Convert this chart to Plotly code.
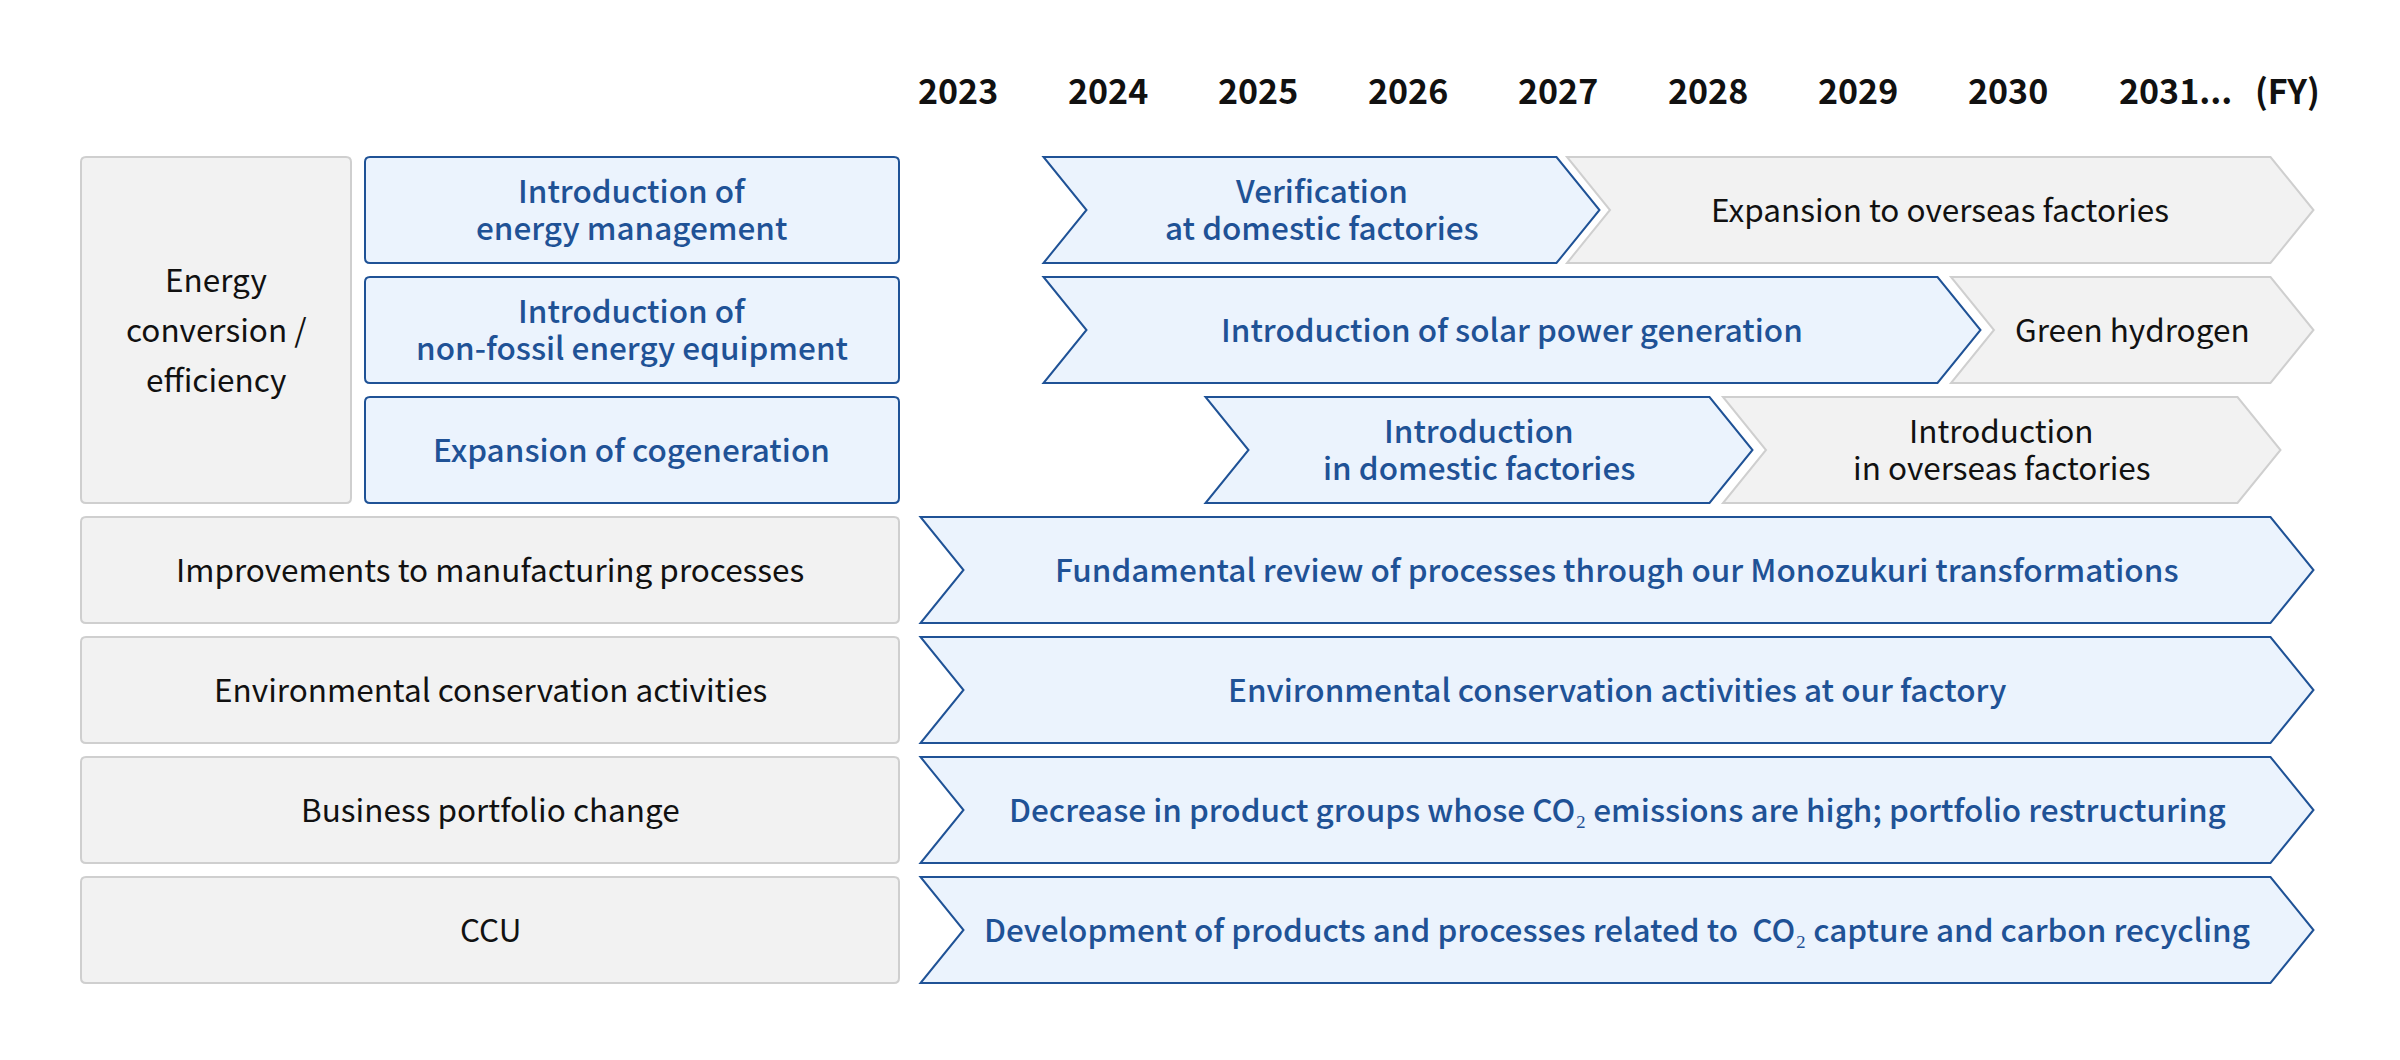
import plotly.graph_objects as go

# ---------------- data ----------------
years = [2023, 2024, 2025, 2026, 2027, 2028, 2029, 2030, 2031]
year_labels = ["2023", "2024", "2025", "2026", "2027", "2028", "2029", "2030", "2031..."]
fy_label = "(FY)"

group_label_lines = ["Energy", "conversion /", "efficiency"]
group_rows = [0, 1, 2]
sub_labels = [
    "Introduction of\nenergy management",
    "Introduction of\nnon-fossil energy equipment",
    "Expansion of cogeneration",
]
single_rows = [3, 4, 5, 6]
single_labels = [
    "Improvements to manufacturing processes",
    "Environmental conservation activities",
    "Business portfolio change",
    "CCU",
]

task_rows = [0, 0, 1, 1, 2, 2, 3, 4, 5, 6]
task_start = [2023.57, 2027.06, 2023.57, 2029.62, 2024.65, 2028.10, 2022.75, 2022.75, 2022.75, 2022.75]
task_end = [2026.99, 2031.75, 2029.53, 2031.75, 2028.01, 2031.53, 2031.75, 2031.75, 2031.75, 2031.75]
task_phase = ["now", "later", "now", "later", "now", "later", "now", "now", "now", "now"]
task_labels = [
    "Verification\nat domestic factories",
    "Expansion to overseas factories",
    "Introduction of solar power generation",
    "Green hydrogen",
    "Introduction\nin domestic factories",
    "Introduction\nin overseas factories",
    "Fundamental review of processes through our Monozukuri transformations",
    "Environmental conservation activities at our factory",
    "Decrease in product groups whose CO\u2082 emissions are high; portfolio restructuring",
    "Development of products and processes related to  CO\u2082 capture and carbon recycling",
]

# ---------------- style / geometry ----------------
W, H = 2400, 1060
PX_PER_YEAR = 150.0
X_ORIGIN_PX = 958.0          # pixel of first year column
ROW_PITCH = 120.0
ROW0_PX = 210.0
HALF = 53.0 / ROW_PITCH
TIP = 43.0 / PX_PER_YEAR

BLUE_LINE = "#1F5296"
BLUE_FILL = "#EBF3FD"
BLUE_TEXT = "#1F5296"
GRAY_LINE = "#CFCFCF"
GRAY_FILL = "#F2F2F2"
DARK = "#111111"
FONT = "Noto Sans CJK JP"
FS = 31.5
BLUE_WT = 500
YEAR_FS = 34
LINE_GAP = 36.5   # px between the two lines of a wrapped label
TEXT_LIFT = 2.5   # px

x_range = [years[0] - X_ORIGIN_PX / PX_PER_YEAR, years[0] + (W - X_ORIGIN_PX) / PX_PER_YEAR]
y_range = [(H - ROW0_PX) / ROW_PITCH, -ROW0_PX / ROW_PITCH]

fig = go.Figure()
shapes = []
annotations = []


def rrect(x0, x1, y0, y1, r_px=5):
    rx = r_px / W
    ry = r_px / ROW_PITCH
    return (f"M {x0+rx},{y0} L {x1-rx},{y0} Q {x1},{y0} {x1},{y0+ry} "
            f"L {x1},{y1-ry} Q {x1},{y1} {x1-rx},{y1} L {x0+rx},{y1} "
            f"Q {x0},{y1} {x0},{y1-ry} L {x0},{y0+ry} Q {x0},{y0} {x0+rx},{y0} Z")


def note(**kw):
    base = dict(showarrow=False, xanchor="center", yanchor="middle")
    base.update(kw)
    annotations.append(base)


def label(x, y, xref, text, font, gap=LINE_GAP):
    lines = text.split("\n")
    n = len(lines)
    for i, ln in enumerate(lines):
        off = ((n - 1) / 2 - i) * gap
        note(x=x, y=y, xref=xref, yref="y", text=ln, yshift=off + TEXT_LIFT, font=font)


# label column (paper x)
LX0, LX1 = 81 / W, 899 / W
GX1 = 351 / W
SX0 = 365 / W

# big group box
shapes.append(dict(type="path", xref="paper", yref="y",
                   path=rrect(LX0, GX1, group_rows[0] - HALF, group_rows[-1] + HALF),
                   fillcolor=GRAY_FILL, line=dict(color=GRAY_LINE, width=2), layer="below"))
label((LX0 + GX1) / 2, group_rows[1], "paper", "\n".join(group_label_lines),
      dict(family=FONT, size=FS, color=DARK), gap=50)

for r, lab in zip(group_rows, sub_labels):
    shapes.append(dict(type="path", xref="paper", yref="y",
                       path=rrect(SX0, LX1, r - HALF, r + HALF),
                       fillcolor=BLUE_FILL, line=dict(color=BLUE_LINE, width=2), layer="below"))
    label((SX0 + LX1) / 2, r, "paper", lab,
          dict(family=FONT, size=FS, color=BLUE_TEXT, weight=BLUE_WT))

for r, lab in zip(single_rows, single_labels):
    shapes.append(dict(type="path", xref="paper", yref="y",
                       path=rrect(LX0, LX1, r - HALF, r + HALF),
                       fillcolor=GRAY_FILL, line=dict(color=GRAY_LINE, width=2), layer="below"))
    label((LX0 + LX1) / 2, r, "paper", lab, dict(family=FONT, size=FS, color=DARK))

# chevrons
for r, x0, x1, ph, lab in zip(task_rows, task_start, task_end, task_phase, task_labels):
    top, bot = r - HALF, r + HALF
    path = (f"M {x0},{top} L {x1},{top} L {x1+TIP},{r} L {x1},{bot} "
            f"L {x0},{bot} L {x0+TIP},{r} Z")
    if ph == "now":
        fill, lc, tc, wt = BLUE_FILL, BLUE_LINE, BLUE_TEXT, BLUE_WT
    else:
        fill, lc, tc, wt = GRAY_FILL, GRAY_LINE, DARK, 400
    shapes.append(dict(type="path", xref="x", yref="y", path=path,
                       fillcolor=fill, line=dict(color=lc, width=2), layer="below"))
    label((x0 + TIP + x1) / 2, r, "x", lab, dict(family=FONT, size=FS, color=tc, weight=wt))

# year header
YEAR_Y = (89 - ROW0_PX) / ROW_PITCH
year_font = dict(family=FONT, size=YEAR_FS, color=DARK, weight=700)
for yr, lab in zip(years, year_labels):
    if lab.endswith("..."):
        note(x=yr, y=YEAR_Y, xref="x", yref="y", text=lab, xanchor="left", xshift=-41,
             font=year_font)
    else:
        note(x=yr, y=YEAR_Y, xref="x", yref="y", text=lab, font=year_font)
note(x=years[-1], y=YEAR_Y, xref="x", yref="y", text=fy_label, xanchor="left", xshift=95,
     font=year_font)

fig.update_layout(
    width=W, height=H, autosize=False,
    margin=dict(l=0, r=0, t=0, b=0, pad=0),
    paper_bgcolor="white", plot_bgcolor="white",
    xaxis=dict(range=x_range, visible=False, fixedrange=True),
    yaxis=dict(range=y_range, visible=False, fixedrange=True),
    shapes=shapes, annotations=annotations, showlegend=False,
)

fig.write_html("out.html", config={"displayModeBar": False},
               post_script="document.body.style.margin='0';")
